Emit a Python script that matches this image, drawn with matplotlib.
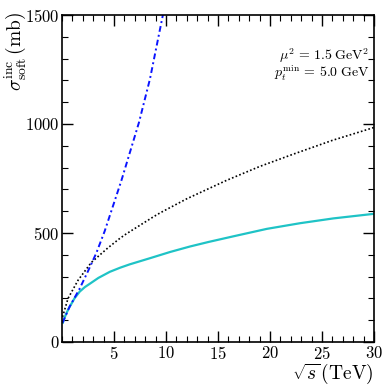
import matplotlib
matplotlib.use("Agg")
import matplotlib.pyplot as plt

plt.rcParams['font.family'] = 'cmr10'
plt.rcParams['mathtext.fontset'] = 'cm'
plt.rcParams['axes.unicode_minus'] = False
plt.rcParams['axes.formatter.use_mathtext'] = True

# Data
x_solid = [0.05, 0.3, 0.6, 1.2, 1.7, 2.2, 2.7, 3.5, 4.6, 5.6, 6.5, 8.5, 10.4, 12.3, 14.1, 16.5, 19.7, 22.9, 26.1, 30]
y_solid = [84, 118, 150, 200, 231, 252, 268, 294, 322, 341, 356, 385, 413, 438, 459, 485, 519, 545, 567, 588]

x_dot = [0.05, 0.58, 1.54, 2.82, 4.42, 5.58, 6.18, 8.78, 9.42, 12, 15.8, 19, 22.2, 26, 30]
y_dot = [115, 200, 283, 365, 432, 476, 496, 574, 592, 657, 741, 805, 861, 925, 984]

x_dd = [0.05, 0.74, 1.7, 2.5, 3.3, 4.1, 5.7, 7.4, 8.46, 9.7]
y_dd = [88, 163, 245, 325, 408, 508, 739, 1007, 1207, 1500]

x_ticks = [5, 10, 15, 20, 25, 30]
y_ticks = [0, 500, 1000, 1500]

fig = plt.figure(figsize=(3.9, 3.9), dpi=100)
ax = fig.add_axes([62/390, 48/390, 312/390, 327/390])

ax.plot(x_solid, y_solid, color='#1fc3c6', lw=1.6, solid_capstyle='butt')
ax.plot(x_dot, y_dot, color='black', lw=1.2, linestyle=(0, (1, 1.35)))
ax.plot(x_dd, y_dd, color='#0a14ff', lw=1.4, linestyle=(0, (3, 1.6, 1, 1.6)))

ax.set_xlim(0, 30)
ax.set_ylim(0, 1500)
ax.set_xticks(x_ticks)
ax.set_yticks(y_ticks)
ax.set_xticks(range(0, 31), minor=True)
ax.set_yticks(range(0, 1501, 100), minor=True)
ax.tick_params(which='both', direction='in', top=True, right=True, labelsize=12)
ax.tick_params(which='major', length=8, width=1)
ax.tick_params(which='minor', length=4, width=0.8)
ax.tick_params(axis='y', pad=2)
ax.tick_params(axis='x', pad=2)
for s in ax.spines.values():
    s.set_linewidth(1.2)

ax.text(0.985, 0.877, r'$\mu^2\,=\,1.5\;\mathrm{GeV}^2$', transform=ax.transAxes,
        ha='right', va='center', fontsize=10)
ax.text(0.985, 0.822, r'$p_t^{\mathrm{min}}\,=\,5.0\;\mathrm{GeV}$', transform=ax.transAxes,
        ha='right', va='center', fontsize=10)

fig.text(3/390, 1 - 12/390, r'$\sigma^{\mathrm{inc}}_{\mathrm{soft}}\,(\mathrm{mb})$',
         rotation=90, ha='left', va='top', fontsize=14)
fig.text(374/390, 1 - 362/390, r'$\sqrt{s}\,(\mathrm{TeV})$', ha='right', va='top', fontsize=14)

fig.savefig('out.png', dpi=100)
